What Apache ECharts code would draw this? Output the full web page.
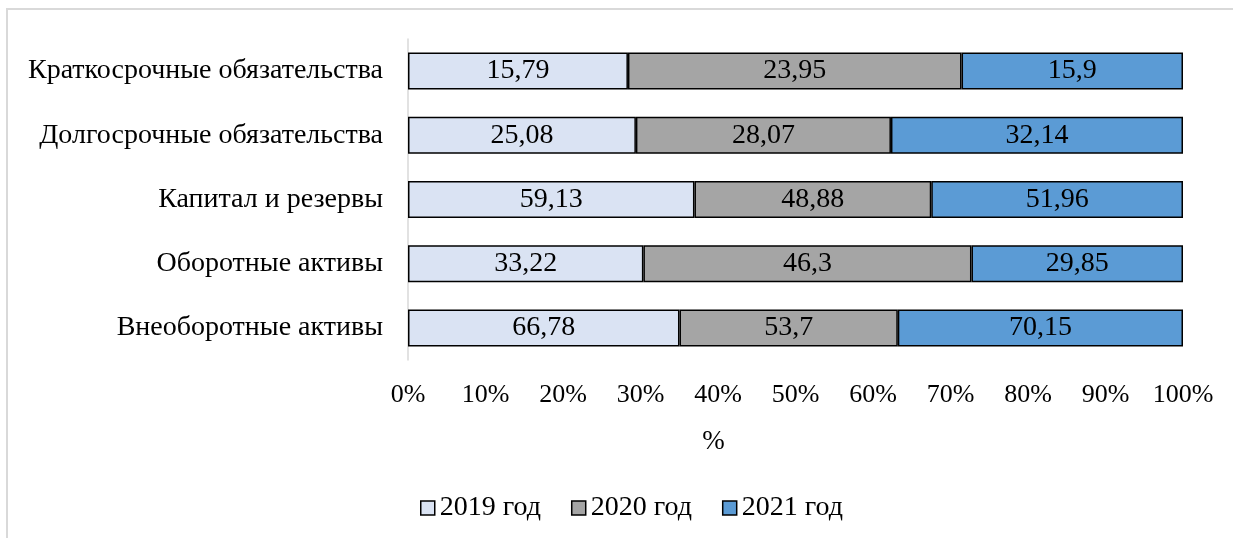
<!DOCTYPE html>
<html>
<head>
<meta charset="utf-8">
<script src="https://cdn.jsdelivr.net/npm/echarts@6/dist/echarts.min.js"></script>
<style>
  html, body { margin: 0; padding: 0; background: #fff; }
  #chart { width: 1233px; height: 538px; }
</style>
</head>
<body>
<div id="chart"></div>
<script>
// categories, top to bottom
const categories = [
  'Краткосрочные обязательства',
  'Долгосрочные обязательства',
  'Капитал и резервы',
  'Оборотные активы',
  'Внеоборотные активы'
];
const seriesNames = ['2019 год', '2020 год', '2021 год'];
const values2019 = [15.79, 25.08, 59.13, 33.22, 66.78];
const values2020 = [23.95, 28.07, 48.88, 46.3, 53.7];
const values2021 = [15.9, 32.14, 51.96, 29.85, 70.15];
const xTicks = [0, 10, 20, 30, 40, 50, 60, 70, 80, 90, 100];

const colors = ['#dae3f3', '#a5a5a5', '#5b9bd5'];
const font = '"Liberation Serif", "Times New Roman", serif';

const raw = [values2019, values2020, values2021];
// 100% stacked: share of each value in the row total
const totals = categories.map((c, i) => raw.reduce((s, arr) => s + arr[i], 0));

const chart = echarts.init(document.getElementById('chart'), null, { renderer: 'canvas' });

const series = raw.map((arr, k) => ({
  name: seriesNames[k],
  type: 'bar',
  stack: 'total',
  barWidth: 37,
  data: arr.map((v, i) => ({ value: v / totals[i] * 100, raw: v })),
  itemStyle: { color: colors[k], borderColor: '#000', borderWidth: 1.5 },
  label: {
    show: true,
    position: 'inside',
    fontFamily: font,
    fontSize: 28,
    color: '#000',
    formatter: (p) => String(p.data.raw).replace('.', ',')
  }
}));

chart.setOption({
  animation: false,
  backgroundColor: '#fff',
  graphic: [{
    type: 'rect',
    shape: { x: 7, y: 9, width: 1400, height: 700 },
    style: { fill: 'none', stroke: '#d9d9d9', lineWidth: 2 },
    silent: true
  }],
  grid: { left: 408, right: 50, top: 39, bottom: 178 },
  legend: {
    bottom: 11,
    left: 415,
    itemWidth: 14,
    itemHeight: 14,
    itemGap: 30,
    textStyle: { fontFamily: font, fontSize: 28, color: '#000' },
    data: seriesNames.map((n, k) => ({
      name: n,
      icon: 'rect',
      itemStyle: { color: colors[k], borderColor: '#000', borderWidth: 1.5 }
    }))
  },
  xAxis: {
    type: 'value',
    min: 0,
    max: 100,
    interval: 10,
    name: '%',
    nameLocation: 'middle',
    nameGap: 68,
    // the axis title sits left of the axis centre in the original
    nameTextStyle: { fontFamily: font, fontSize: 27, color: '#000', padding: [0, 164, 0, 0] },
    axisLine: { show: false },
    axisTick: { show: false },
    splitLine: { show: false },
    axisLabel: {
      fontFamily: font,
      fontSize: 26,
      color: '#000',
      margin: 22,
      formatter: (v) => xTicks.includes(v) ? v + '%' : ''
    }
  },
  yAxis: {
    type: 'category',
    inverse: true,
    data: categories,
    axisLine: { show: true, lineStyle: { color: '#d9d9d9', width: 1.5 } },
    axisTick: { show: false },
    axisLabel: { fontFamily: font, fontSize: 28, color: '#000', margin: 25 }
  },
  series: series
});
</script>
</body>
</html>
